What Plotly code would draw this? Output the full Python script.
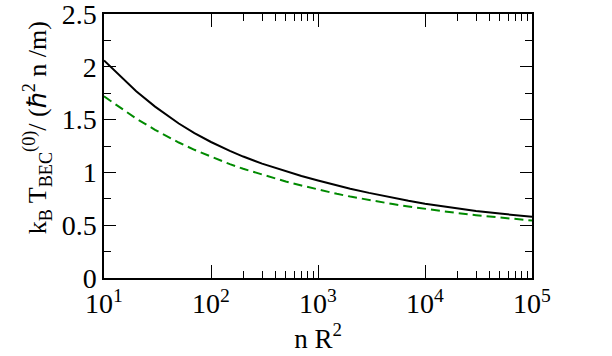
import plotly.graph_objects as go

# Werte
n_r2 = [10, 15, 20, 30, 50, 70, 100, 150, 200, 300, 500, 700, 1000, 1500, 2000,
        3000, 5000, 7000, 1e4, 1.5e4, 2e4, 3e4, 5e4, 7e4, 1e5]
t_black = [2.060, 1.884, 1.769, 1.623, 1.463, 1.373, 1.288, 1.204, 1.150, 1.083,
           1.010, 0.966, 0.924, 0.877, 0.846, 0.806, 0.759, 0.731, 0.704, 0.676,
           0.658, 0.635, 0.610, 0.595, 0.580]
t_green = [1.720, 1.593, 1.510, 1.403, 1.283, 1.214, 1.147, 1.078, 1.034, 0.978,
           0.914, 0.876, 0.836, 0.797, 0.771, 0.738, 0.700, 0.677, 0.655, 0.631,
           0.615, 0.595, 0.572, 0.558, 0.544]

x_tickvals = [10, 100, 1000, 1e4, 1e5]
x_ticktext = ["10<sup>1</sup>", "10<sup>2</sup>", "10<sup>3</sup>", "10<sup>4</sup>", "10<sup>5</sup>"]
x_minor = [200, 300, 400, 500, 600, 700, 800, 900,
           2e4, 3e4, 4e4, 5e4, 6e4, 7e4, 8e4, 9e4]
y_tickvals = [0, 0.5, 1, 1.5, 2, 2.5]
y_ticktext = ["0", "0.5", "1", "1.5", "2", "2.5"]

font = "Liberation Serif, Times New Roman, serif"

fig = go.Figure()
fig.add_trace(go.Scatter(
    x=n_r2, y=t_black, mode="lines",
    line=dict(color="black", width=2),
    showlegend=False
))
fig.add_trace(go.Scatter(
    x=n_r2, y=t_green, mode="lines",
    line=dict(color="#008a00", width=2, dash="9px,5px"),
    showlegend=False
))

fig.update_xaxes(
    type="log", range=[1, 5], automargin=False,
    tickmode="array", tickvals=x_tickvals, ticktext=x_ticktext,
    ticks="inside", ticklen=13, tickwidth=1.3, tickcolor="black",
    minor=dict(tickmode="array", tickvals=x_minor, ticks="inside",
               ticklen=7, tickwidth=1.3, tickcolor="black", showgrid=False),
    showline=True, linecolor="black", linewidth=1.5, mirror="allticks",
    showgrid=False, zeroline=False, ticklabeloverflow="allow",
    tickfont=dict(family=font, size=28, color="black"),
    title=dict(text="n R<sup>2</sup>", font=dict(family=font, size=27, color="black"),
               standoff=0),
)
fig.update_yaxes(
    range=[0, 2.5], automargin=False,
    tickmode="array", tickvals=y_tickvals, ticktext=y_ticktext,
    ticks="inside", ticklen=12, tickwidth=1.3, tickcolor="black",
    minor=dict(dtick=0.25, ticks="inside", ticklen=7, tickwidth=1.3,
               tickcolor="black", showgrid=False),
    showline=True, linecolor="black", linewidth=1.5, mirror="allticks",
    showgrid=False, zeroline=False, ticklabeloverflow="allow",
    tickfont=dict(family=font, size=28, color="black"),
)

# y-Achsentitel als Annotation, damit er wie im Original etwas höher sitzt
fig.add_annotation(
    text="k<sub>B</sub> T<sub>BEC</sub><sup>(0)</sup>/ (ℏ<sup>2</sup> n /m)",
    xref="paper", yref="paper", x=-0.157, y=0.57,
    xanchor="center", yanchor="middle", textangle=-90, showarrow=False,
    font=dict(family=font, size=26, color="black"),
)

fig.update_layout(
    width=612, height=356,
    margin=dict(l=104, r=80, t=14, b=78),
    plot_bgcolor="white", paper_bgcolor="white",
)

fig.write_html("out.html", config={"displayModeBar": False},
               post_script="document.body.style.margin='0';")
